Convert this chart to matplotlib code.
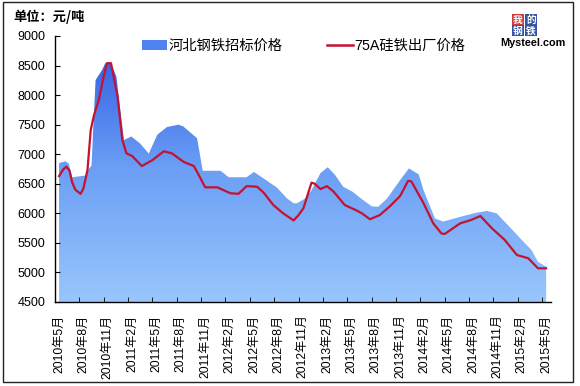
import numpy as np
import matplotlib
matplotlib.use("Agg")
import matplotlib.pyplot as plt
from matplotlib.patches import Patch, Rectangle
from matplotlib.lines import Line2D
from matplotlib.colors import LinearSegmentedColormap

plt.rcParams['font.family'] = ['Liberation Sans', 'Noto Sans CJK SC', 'DejaVu Sans']

# month index: 0 = 2010年5月 ... 60 = 2015年5月
tick_labels = ["2010年5月", "2010年8月", "2010年11月", "2011年2月", "2011年5月",
               "2011年8月", "2011年11月", "2012年2月", "2012年5月", "2012年8月",
               "2012年11月", "2013年2月", "2013年5月", "2013年8月", "2013年11月",
               "2014年2月", "2014年5月", "2014年8月", "2014年11月", "2015年2月",
               "2015年5月"]

# 河北钢铁招标价格 (area)
hebei_m = [0, 0.8, 1.2, 1.6, 3.25, 3.6, 4.0, 4.2, 4.5, 5.3, 5.7, 6.4, 7.07, 7.5,
           8.0, 8.9, 10.0, 11.05, 12.1, 13.3, 14.7, 15.3, 17.0, 17.7, 19.9, 20.9,
           23.1, 24.0, 25.2, 26.8, 28.1, 28.9, 29.3, 30.3, 31.1, 32.2, 33.1, 34.0,
           35.0, 36.1, 37.3, 38.5, 39.3, 40.4, 42.0, 43.1, 44.3, 44.9, 46.3, 47.3,
           49.4, 51.4, 52.7, 53.9, 55.5, 57.2, 58.2, 59.0, 60.0]
hebei_v = [6850, 6880, 6840, 6610, 6640, 6740, 6810, 7410, 8255, 8425, 8540, 8540,
           8310, 7800, 7240, 7300, 7180, 7010, 7330, 7460, 7500, 7470, 7270, 6720,
           6720, 6610, 6610, 6700, 6590, 6440, 6250, 6170, 6170, 6250, 6390, 6680,
           6780, 6650, 6450, 6370, 6240, 6120, 6110, 6250, 6560, 6760, 6660, 6390,
           5915, 5860, 5940, 6010, 6040, 6000, 5770, 5520, 5380, 5180, 5100]

# 75A硅铁出厂价格 (line)
fesi_m = [0, 0.5, 0.9, 1.3, 1.6, 2.0, 2.65, 3.0, 3.5, 3.9, 4.3, 4.9, 5.5, 5.9, 6.4,
          7.2, 7.8, 8.3, 9.0, 10.2, 11.5, 12.9, 13.9, 15.35, 16.6, 17.2, 18.0,
          19.5, 21.1, 22.1, 23.1, 24.4, 25.2, 26.4, 27.6, 28.9, 29.5, 30.1, 31.1,
          31.5, 32.2, 33.0, 33.8, 35.2, 36.7, 37.3, 38.3, 39.5, 40.8, 42.0, 43.0,
          43.4, 44.5, 44.9, 46.1, 47.1, 47.5, 49.4, 50.8, 51.9, 53.3, 54.9, 56.4,
          57.8, 59.0, 60.0]
fesi_v = [6630, 6740, 6790, 6720, 6530, 6400, 6330, 6420, 6730, 7410, 7660, 7920,
          8320, 8540, 8540, 7980, 7240, 7015, 6970, 6800, 6900, 7050, 7015, 6870,
          6800, 6650, 6440, 6440, 6340, 6330, 6460, 6450, 6350, 6140, 6000, 5880,
          5970, 6085, 6520, 6500, 6410, 6460, 6370, 6140, 6045, 6000, 5900, 5970,
          6125, 6290, 6550, 6540, 6270, 6170, 5830, 5660, 5650, 5830, 5890, 5955,
          5750, 5550, 5295, 5240, 5070, 5070]

fig = plt.figure(figsize=(5.8, 3.86), dpi=100)
ax = fig.add_axes([55 / 580, 1 - 302 / 386, 496 / 580, 266 / 386])
ax.set_xlim(-0.45, 60.6)
ax.set_ylim(4500, 9000)

# gradient-filled area
fill = ax.fill_between(hebei_m, hebei_v, 4500, facecolor='none', lw=0)
cmap = LinearSegmentedColormap.from_list("blu", ["#98C6FC", "#6C9FF5", "#2B57E2"])
grad = np.linspace(0, 1, 256).reshape(-1, 1)
im = ax.imshow(grad, cmap=cmap, origin="lower", aspect="auto",
               extent=[-0.45, 60.6, 4500, 9000], zorder=1)
im.set_clip_path(fill.get_paths()[0], transform=ax.transData)

ax.plot(fesi_m, fesi_v, color="#C41230", lw=1.6, zorder=3)

# axes styling
for s in ("top", "right"):
    ax.spines[s].set_visible(False)
for s in ("left", "bottom"):
    ax.spines[s].set_linewidth(1.0)
ax.set_yticks(range(4500, 9001, 500))
ax.tick_params(axis="y", direction="in", length=3.5, pad=7, labelsize=9)
label_pos = np.arange(0, 61, 3)
ax.set_xticks(label_pos)
ax.set_xticklabels(tick_labels, rotation=90, fontsize=8.7)
ax.tick_params(axis="x", which="major", length=0, pad=9)
ax.set_xticks(label_pos - 0.5, minor=True)
ax.tick_params(axis="x", which="minor", direction="in", length=3.5)

# legend
handles = [Patch(facecolor="#4F84F0", edgecolor="none"),
           Line2D([], [], color="#C41230", lw=1.8)]
fig.legend(handles, ["河北钢铁招标价格", "75A硅铁出厂价格"], ncol=2,
           loc="center left", bbox_to_anchor=(0.222, 0.881), frameon=False,
           fontsize=10.3, handlelength=1.8, handletextpad=0.1, columnspacing=3.1)

fig.text(13 / 580, 1 - 17 / 386, "单位：元/吨", fontsize=9.5, fontweight="heavy",
         family=["Noto Sans CJK SC"], va="center", ha="left")

# logo
cells = [("我", 512, 14, "#D33A3A"), ("的", 525, 14, "#3554A8"),
         ("钢", 512, 25, "#3554A8"), ("铁", 525, 25, "#3554A8")]
for ch, x0, y0, col in cells:
    fig.patches.append(Rectangle((x0 / 580, 1 - (y0 + 11) / 386), 12 / 580, 11 / 386,
                                 transform=fig.transFigure, facecolor=col,
                                 edgecolor="none"))
    fig.text((x0 + 6) / 580, 1 - (y0 + 5.5) / 386, ch, color="white", fontsize=7,
             fontweight="bold", family=["Noto Sans CJK SC"], ha="center", va="center")
fig.text(533 / 580, 1 - 43 / 386, "Mysteel.com", fontsize=7.8, fontweight="bold",
         ha="center", va="center")

# outer frame
fig.patches.append(Rectangle((2.5 / 580, 1 - 381.7 / 386), 570.2 / 580, 380.2 / 386,
                             transform=fig.transFigure, facecolor="none",
                             edgecolor="#222222", lw=1.0))

fig.savefig("out.png", dpi=100)
